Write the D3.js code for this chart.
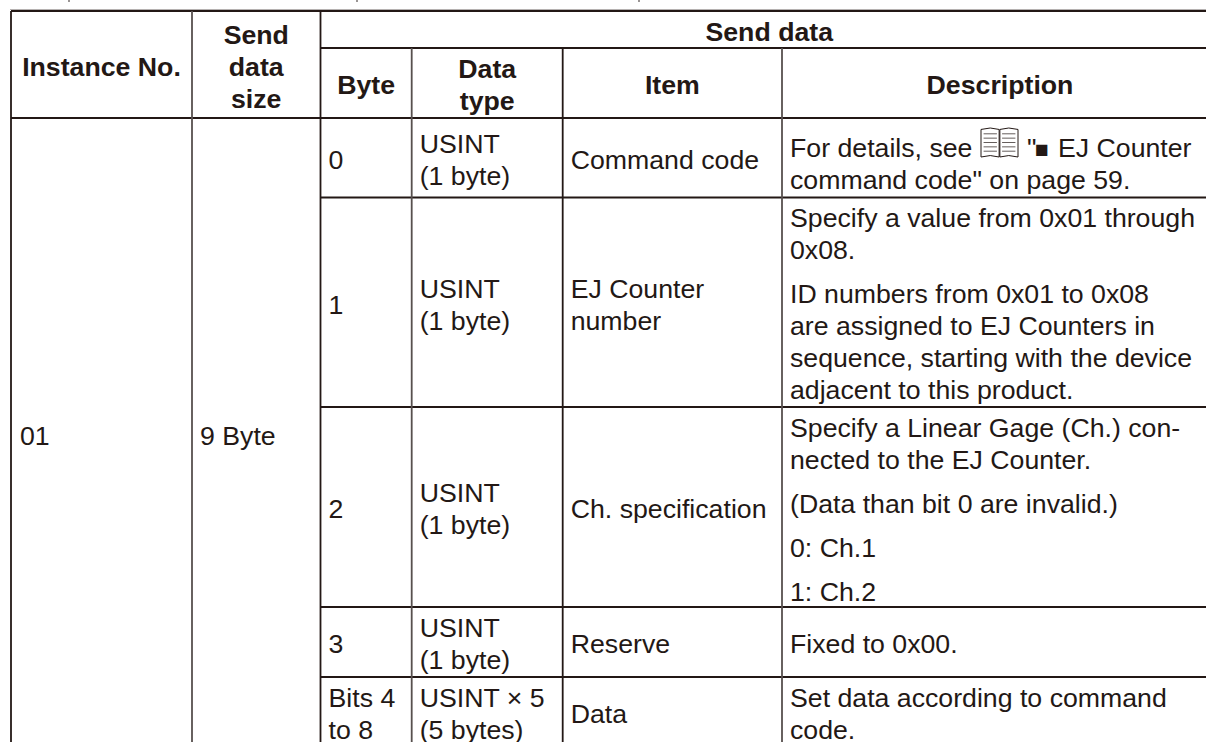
<!DOCTYPE html>
<html lang="en">
<head>
<meta charset="UTF-8">
<title>Send data</title>
<style>
  html, body { margin: 0; background: #fff; }
  svg { display: block; }
  text { font-family: "Liberation Sans", Arial, sans-serif; fill: #231815; }
  .head { font-weight: bold; }
  .rule { stroke: #231815; stroke-width: 1.8; fill: none; }
  .rule.soft { stroke: #57504e; }
</style>
</head>
<body>
<svg width="1206" height="742"></svg>
<script src="https://d3js.org/d3.v7.min.js"></script>
<script>
// table content
var columns = ["instance", "size", "byte", "type", "item", "desc"];
var rows = ["head1", "head2", "r0", "r1", "r2", "r3", "r4"];

var headerCells = [
  ["instance", "head1", "head2", ["Instance No."]],
  ["size", "head1", "head2", ["Send", "data", "size"]],
  ["byte", "head2", "head2", ["Byte"]],
  ["type", "head2", "head2", ["Data", "type"]],
  ["item", "head2", "head2", ["Item"]],
  ["desc", "head2", "head2", ["Description"]]
];

var byteLabels = [["0"], ["1"], ["2"], ["3"], ["Bits 4", "to 8"]];
var typeLabels = [["USINT", "(1 byte)"], ["USINT", "(1 byte)"], ["USINT", "(1 byte)"], ["USINT", "(1 byte)"], ["USINT × 5", "(5 bytes)"]];
var itemLabels = [["Command code"], ["EJ Counter", "number"], ["Ch. specification"], ["Reserve"], ["Data"]];
var descLabels = [
  [["For details, see", "command code\" on page 59."]],
  [["Specify a value from 0x01 through", "0x08."], ["ID numbers from 0x01 to 0x08", "are assigned to EJ Counters in", "sequence, starting with the device", "adjacent to this product."]],
  [["Specify a Linear Gage (Ch.) con-", "nected to the EJ Counter."], ["(Data than bit 0 are invalid.)"], ["0: Ch.1"], ["1: Ch.2"]],
  [["Fixed to 0x00."]],
  [["Set data according to command", "code."]]
];

var svg = d3.select("svg");

// column and row edges, the last row and column run off the page
var xLeft = d3.scaleOrdinal().domain(columns).range([11, 192, 320.5, 411.7, 562.7, 782]);
var xRight = d3.scaleOrdinal().domain(columns).range([192, 320.5, 411.7, 562.7, 782, 1218]);
var yTop = d3.scaleOrdinal().domain(rows).range([11, 48, 118, 197.5, 407, 607, 677]);
var yBottom = d3.scaleOrdinal().domain(rows).range([48, 118, 197.5, 407, 607, 677, 747]);

var fontSize = 26.7, leading = 32, paraGap = 12, centerOffset = 11.3, textPad = 8;

var rules = svg.append("g").attr("class", "rules");

function hRule(y, x1, x2) {
  rules.append("line").attr("class", "rule").attr("x1", x1).attr("x2", x2).attr("y1", y).attr("y2", y);
}
function vRule(x, y1, y2, soft) {
  rules.append("line").attr("class", soft ? "rule soft" : "rule").attr("x1", x).attr("x2", x).attr("y1", y1).attr("y2", y2);
}

// faint edge above the top rule
rules.append("line").attr("x1", 10).attr("x2", 1206).attr("y1", 9.5).attr("y2", 9.5).attr("stroke", "#b5b1b0").attr("stroke-width", 1);

hRule(yTop("head1"), xLeft("instance"), 1206);
hRule(yTop("head2"), xLeft("byte"), 1206);
hRule(yTop("r0"), xLeft("instance"), 1206);
rows.slice(3).forEach(function(r) { hRule(yTop(r), xLeft("byte"), 1206); });

vRule(xLeft("instance"), yTop("head1"), 742);
vRule(xLeft("size"), yTop("head1"), 742, true);
vRule(xLeft("byte"), yTop("head1"), 742);
columns.slice(3).forEach(function(c) { vRule(xLeft(c), yTop("head2"), 742, c != "item"); });

// bits of the line above, cut off by the page edge
[69, 357, 639].forEach(function(x) {
  rules.append("line").attr("x1", x).attr("x2", x).attr("y1", 0).attr("y2", 2).attr("stroke", "#9a9594").attr("stroke-width", 2);
});

var labels = svg.append("g");

function centeredLines(lines, mid) {
  return lines.map(function(t, i) {
    return {text: t, y: mid + centerOffset + (i - (lines.length - 1) / 2) * leading};
  });
}

function drawLines(lines, x, cls, anchor, size) {
  labels.selectAll(null)
    .data(lines)
    .enter()
    .append("text")
    .attr("class", cls)
    .attr("x", x)
    .attr("y", function(d) { return d.y; })
    .attr("text-anchor", anchor)
    .attr("font-size", size || fontSize)
    .text(function(d) { return d.text; });
}

headerCells.forEach(function(c) {
  var mid = (yTop(c[1]) + yBottom(c[2])) / 2;
  drawLines(centeredLines(c[3], mid), (xLeft(c[0]) + xRight(c[0])) / 2, "head", "middle");
});
drawLines(centeredLines(["Send data"], (yTop("head1") + yBottom("head1")) / 2), (xLeft("byte") + xRight("desc")) / 2, "head", "middle");

rows.slice(2).forEach(function(r, i) {
  var mid = (yTop(r) + yBottom(r)) / 2;
  drawLines(centeredLines(byteLabels[i], mid), xLeft("byte") + textPad, "cell", "start");
  drawLines(centeredLines(typeLabels[i], mid), xLeft("type") + textPad, "cell", "start");
  drawLines(centeredLines(itemLabels[i], mid), xLeft("item") + textPad, "cell", "start");

  // description paragraphs
  var y = yTop(r) + (i == 0 ? 39 : i == 3 ? 46 : 29.7);
  var lines = [];
  descLabels[i].forEach(function(para) {
    para.forEach(function(t) {
      lines.push({text: t, y: y});
      y += leading;
    });
    y += paraGap;
  });
  drawLines(lines, xLeft("desc") + textPad, "cell", "start");
});

// rest of the first description line, after the manual icon
drawLines([{text: "\"", y: 157}], 1027, "cell", "start");
drawLines([{text: "■", y: 157}], 1035, "cell", "start", 23);
drawLines([{text: "EJ Counter", y: 157}], 1058, "cell", "start");

drawLines([{text: "01", y: 445}], xLeft("instance") + textPad + 1, "cell", "start");
drawLines([{text: "9 Byte", y: 445}], xLeft("size") + textPad, "cell", "start");

// manual icon
var book = svg.append("g").attr("fill", "none").attr("stroke", "#231815").attr("stroke-width", 1);
var bookX = d3.scaleLinear().domain([0, 1]).range([981, 1018]);
var bookY = d3.scaleLinear().domain([0, 1]).range([128, 157]);
var pageLeft = [[0, .05], [.25, 0], [.49, .05], [.49, 1], [.25, .95], [0, 1], [0, .05]];
var pageRight = [[.51, .05], [.75, 0], [1, .05], [1, 1], [.75, .95], [.51, 1], [.51, .05]];
[pageLeft, pageRight].forEach(function(p) {
  book.append("path").attr("d", d3.line().x(function(d) { return bookX(d[0]); }).y(function(d) { return bookY(d[1]); })(p));
});
[.2, .35, .5, .65, .8].forEach(function(v) {
  book.append("line").attr("x1", bookX(.07)).attr("x2", bookX(.43)).attr("y1", bookY(v)).attr("y2", bookY(v)).attr("stroke-width", .7);
  book.append("line").attr("x1", bookX(.57)).attr("x2", bookX(.93)).attr("y1", bookY(v)).attr("y2", bookY(v)).attr("stroke-width", .7);
});
</script>
</body>
</html>
